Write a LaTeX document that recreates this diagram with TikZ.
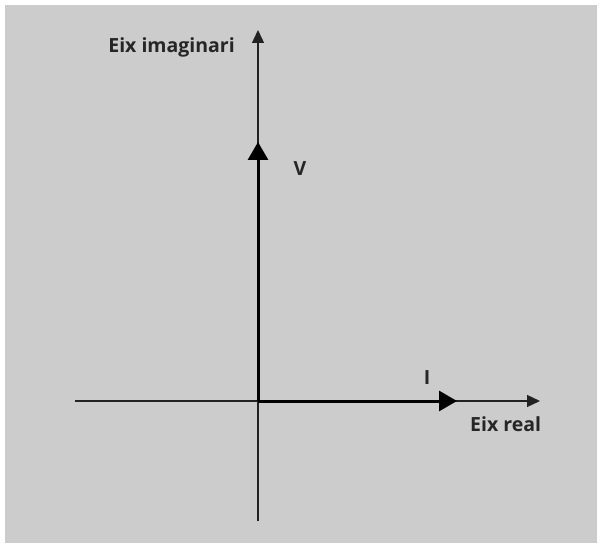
\documentclass[tikz,border=0pt]{standalone}
\usepackage{fontspec}
\setmainfont{Open Sans}
\usetikzlibrary{arrows.meta}
\definecolor{bggray}{HTML}{CCCCCC}
\definecolor{axcol}{HTML}{222222}
\tikzset{
  axis/.style={draw=axcol, line width=1.3pt, -{Triangle[length=13pt,width=12pt]}},
  vec/.style={draw=black, line width=3pt, -{Triangle[length=18pt,width=20pt]}, shorten >=-2pt},
  lbl/.style={font=\fontsize{19.5}{22}\selectfont\bfseries, text=black!85, inner sep=0pt}
}
\begin{document}
\begin{tikzpicture}[x=1pt,y=1pt]
\useasboundingbox (0,0) rectangle (602,544);
\fill[white] (0,0) rectangle (602,544);
\fill[bggray] (5,1) rectangle (597,539);
\coordinate (O) at (258,143);
\coordinate (ybot) at (258,23);
\coordinate (ytop) at (258,514);
\coordinate (xleft) at (75,143);
\coordinate (xright) at (540,143);
\coordinate (Vtip) at (258,400);
\coordinate (Itip) at (455,143);
\draw[axis] (ybot) -- (ytop);
\draw[axis] (xleft) -- (xright);
\draw[vec] (O) -- (Vtip);
\draw[vec] (O) -- (Itip);
\node[lbl, anchor=east] (lim) at (235,497) {Eix imaginari};
\node[lbl] (lv) at (300,375) {V};
\node[lbl] (li) at (427,166) {I};
\node[lbl, anchor=west] (lre) at (470,120) {Eix real};
\end{tikzpicture}
\end{document}
